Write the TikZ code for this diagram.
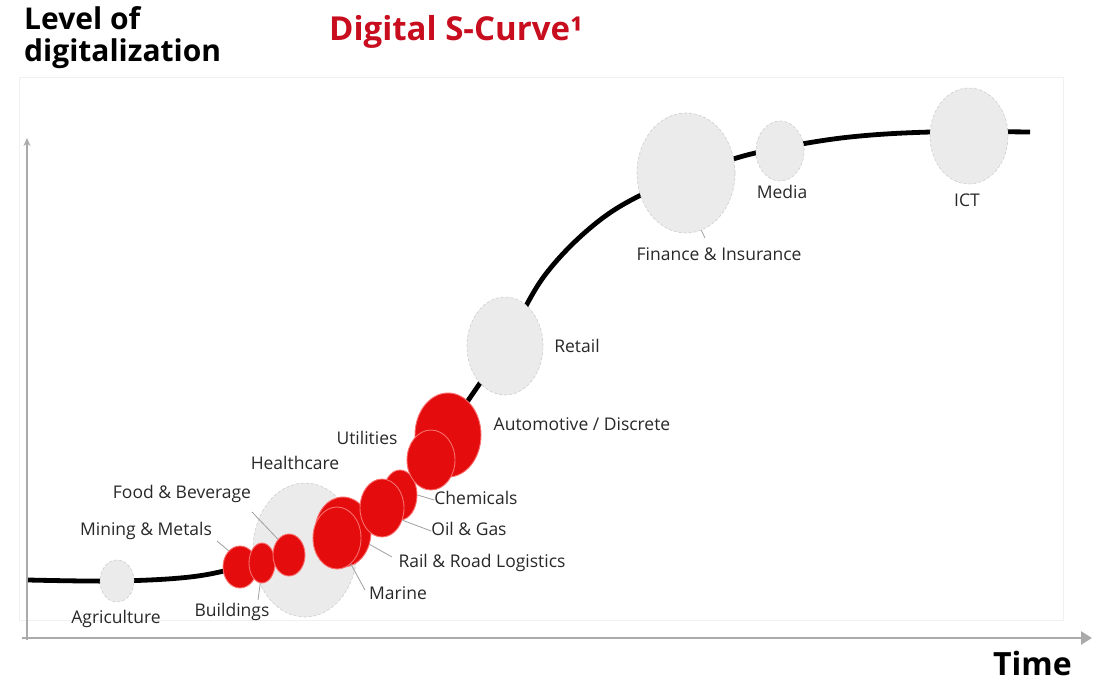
\documentclass[tikz,border=0pt]{standalone}
\usepackage{fontspec}
\setmainfont{Open Sans}
\usepackage{tikz}
\usetikzlibrary{positioning, arrows.meta, shapes}
\usepackage{xcolor}
\definecolor{abbred}{RGB}{228,12,12}
\definecolor{rimred}{RGB}{250,110,110}
\definecolor{titlered}{RGB}{200,14,30}
\definecolor{bubblegray}{RGB}{235,235,235}
\definecolor{rimgray}{RGB}{205,205,205}
\definecolor{axisgray}{RGB}{170,170,170}
\definecolor{framegray}{RGB}{240,240,240}
\definecolor{labelgray}{RGB}{40,40,40}

\begin{document}
\begin{tikzpicture}[
			% GLOBAL CFG
			x=1pt, y=-1pt,
			% Styles
			bubble/.style={% For the grey industries
				ellipse,
				draw=rimgray,
				densely dashed,
				line width=.6pt,
				fill=bubblegray,
				inner sep=0pt,
			},
			hot/.style={% For the red industries
				ellipse,
				draw=rimred,
				line width=.9pt,
				fill=abbred,
				inner sep=0pt,
			},
			sz/.style 2 args={% width and height of a bubble
				minimum width=#1,
				minimum height=#2,
			},
			tag/.style={% For the industry names
				font=\fontsize{17.5}{20}\selectfont,
				text=labelgray,
				inner sep=0pt,
				text height=12pt,
				text depth=4pt,
			},
			header/.style={% Axis titles and heading
				font=\bfseries\fontsize{30}{36}\selectfont,
				inner sep=0pt,
				anchor=base west,
			},
			leader/.style={% thin lines from bubble to name
				draw=gray!75,
				line width=.8pt,
			},
			scurve/.style={% the S-curve itself
				line width=4.8pt,
				line join=round,
			},
			axis/.style={% grey axes
				draw=axisgray,
				line width=2.5pt,
			},
			]
			\useasboundingbox (0,0) rectangle (1102,682);
			
			% Faint frame and axes
			\draw[framegray, line width=1pt] (19,78) rectangle (1063,620);
			\coordinate (origin) at (27,640);
			\coordinate (ytop) at (27,138);
			\coordinate (xleft) at (22,638);
			\coordinate (xend) at (1092,638);
			\draw[axis, line width=2pt, -{Stealth[length=8pt, width=7pt]}] (origin) -- (ytop);
			\draw[axis, -{Triangle[length=11pt, width=13pt]}] (xleft) -- (xend);
			
			% Headings
			\node[header] (lvl) at (24,30) {Level of};
			\node[header] (digi) at (24,62) {digitalization};
			\node[header, text=titlered, font=\bfseries\fontsize{33}{36}\selectfont] (title) at (329,41) {Digital S-Curve¹};
			\node[header, anchor=base east, font=\bfseries\fontsize{32}{36}\selectfont] (time) at (1072,675) {Time};
			
			% Draw the S-curve
			\draw[scurve] plot[smooth, tension=0.6] coordinates {
				(28,580) (117,581) (190,577) (240,567) (290,552) (340,532)
				(390,497) (430,455) (465,405) (505,345) (545,275) (600,220)
				(660,186) (730,160) (780,148) (850,137) (931,132) (1030,132)};
			
			% Grey bubbles
			\node[bubble, sz={34}{42}] (agri) at (117,581) {};
			\node[bubble, sz={104}{134}] (health) at (305,550) {};
			\node[bubble, sz={76}{98}] (retail) at (505,346) {};
			\node[bubble, sz={98}{120}] (fin) at (686,173) {};
			\node[bubble, sz={48}{60}] (media) at (780,151) {};
			\node[bubble, sz={78}{96}] (ict) at (969,136) {};
			
			% Red bubbles
			\node[hot, sz={34}{42}] (mining) at (240,567) {};
			\node[hot, sz={26}{40}] (build) at (262,563) {};
			\node[hot, sz={32}{42}] (food) at (289,555) {};
			\node[hot, sz={56}{70}] (rail) at (343,532) {};
			\node[hot, sz={48}{62}] (marine) at (337,538) {};
			\node[hot, sz={34}{50}] (chem) at (400,495) {};
			\node[hot, sz={44}{58}] (oil) at (382,508) {};
			\node[hot, sz={66}{84}] (auto) at (448,435) {};
			\node[hot, sz={48}{60}] (util) at (431,460) {};
			
			% Names
			\node[tag] (lAgri) at (116,619) {Agriculture};
			\node[tag] (lBuild) at (232,612) {Buildings};
			\node[tag] (lMining) at (146,531) {Mining \& Metals};
			\node[tag] (lFood) at (182,494) {Food \& Beverage};
			\node[tag] (lHealth) at (295,465) {Healthcare};
			\node[tag] (lUtil) at (367,440) {Utilities};
			\node[tag] (lAuto) at (582,426) {Automotive / Discrete};
			\node[tag] (lChem) at (476,500) {Chemicals};
			\node[tag] (lOil) at (469,531) {Oil \& Gas};
			\node[tag] (lRail) at (482,563) {Rail \& Road Logistics};
			\node[tag] (lMarine) at (398,595) {Marine};
			\node[tag] (lRetail) at (577,348) {Retail};
			\node[tag] (lFin) at (719,256) {Finance \& Insurance};
			\node[tag] (lMedia) at (782,194) {Media};
			\node[tag] (lIct) at (967,202) {ICT};
			
			% Leader lines
			\coordinate (miningEnd) at (217,541);
			\coordinate (buildEnd) at (258,600);
			\coordinate (foodEnd) at (252,512);
			\coordinate (railEnd) at (392,557);
			\coordinate (marineEnd) at (365,590);
			\coordinate (finEnd) at (705,238);
			\draw[leader] (mining.125) -- (miningEnd);
			\draw[leader] (build.265) -- (buildEnd);
			\draw[leader] (food.125) -- (foodEnd);
			\draw[leader] (chem.east) -- (lChem.west);
			\draw[leader] (oil.-31) -- (lOil.west);
			\draw[leader] (rail.-25) -- (railEnd);
			\draw[leader] (marine.-62) -- (marineEnd);
			\draw[leader] (fin.-75) -- (finEnd);
			
		\end{tikzpicture}
\end{document}
